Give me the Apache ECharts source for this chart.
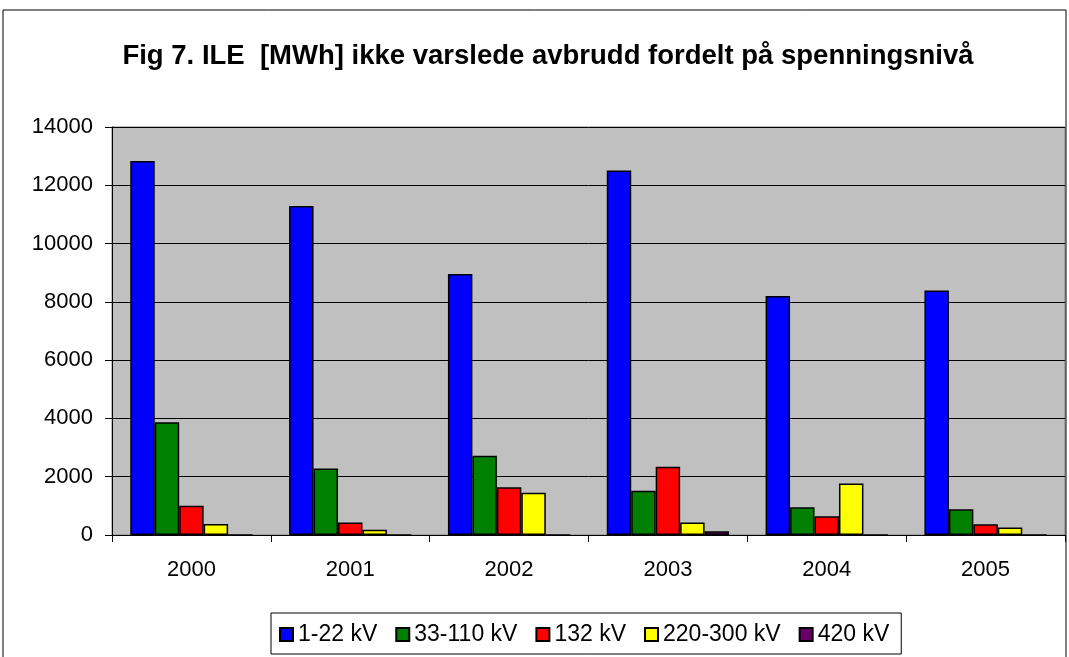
<!DOCTYPE html>
<html>
<head>
<meta charset="utf-8">
<script src="https://cdn.jsdelivr.net/npm/echarts@6/dist/echarts.min.js"></script>
<style>
  html, body { margin: 0; padding: 0; background: #fff; }
  #chart { width: 1069px; height: 657px; }
</style>
</head>
<body>
<div id="chart"></div>
<script>
// Data
var years = ['2000', '2001', '2002', '2003', '2004', '2005'];
var seriesNames = ['1-22 kV', '33-110 kV', '132 kV', '220-300 kV', '420 kV'];
var kv1_22 = [12830, 11290, 8960, 12510, 8200, 8390];
var kv33_110 = [3870, 2280, 2720, 1520, 950, 880];
var kv132 = [1000, 430, 1640, 2340, 640, 365];
var kv220_300 = [380, 180, 1450, 430, 1770, 260];
var kv420 = [0, 0, 0, 125, 0, 0];
var yTicks = [0, 2000, 4000, 6000, 8000, 10000, 12000, 14000];

var colors = ['#0000ff', '#008000', '#ff0000', '#ffff00', '#660066'];
var seriesData = [kv1_22, kv33_110, kv132, kv220_300, kv420];

var chartElement = document.getElementById('chart');
var chart = echarts.init(chartElement);

var font = '"Liberation Sans", Arial, sans-serif';

var series = seriesNames.map(function(name, i) {
    return {
        name: name,
        type: 'bar',
        barGap: 0,
        barCategoryGap: '23%',
        itemStyle: {
            color: colors[i],
            borderColor: '#000',
            borderWidth: 1.5
        },
        data: seriesData[i]
    };
});

var options = {
    animation: false,
    color: colors,
    textStyle: { fontFamily: font },

    // Title
    title: {
        text: 'Fig 7. ILE  [MWh] ikke varslede avbrudd fordelt på spenningsnivå',
        left: 543,
        textAlign: 'center',
        top: 37,
        textStyle: {
            fontFamily: font,
            fontSize: 27.5,
            fontWeight: 'bold',
            color: '#000'
        }
    },

    // Outer chart frame
    graphic: [{
        type: 'rect',
        shape: { x: 3, y: 10, width: 1063, height: 700 },
        style: { fill: null, stroke: '#000', lineWidth: 1 },
        silent: true
    }],

    // Legend
    legend: {
        left: 271,
        top: 613,
        data: seriesNames,
        icon: 'rect',
        itemWidth: 13,
        itemHeight: 13,
        itemGap: 18,
        padding: [10, 12, 8, 8],
        borderColor: '#000',
        borderWidth: 1,
        textStyle: { fontFamily: font, fontSize: 23, color: '#000' }
    },

    grid: {
        left: 112,
        right: 4,
        top: 127,
        bottom: 122,
        show: true,
        backgroundColor: '#c0c0c0',
        borderColor: '#808080',
        borderWidth: 1
    },

    xAxis: {
        type: 'category',
        data: years,
        axisLine: { lineStyle: { color: '#000', width: 1 } },
        axisTick: { show: true, length: 7, lineStyle: { color: '#000' } },
        axisLabel: { margin: 24, fontSize: 22, color: '#000', fontFamily: font },
        splitLine: { show: false }
    },

    yAxis: {
        type: 'value',
        min: yTicks[0],
        max: yTicks[yTicks.length - 1],
        interval: yTicks[1] - yTicks[0],
        axisLine: { show: true, lineStyle: { color: '#000', width: 1 } },
        axisTick: { show: true, length: 7, lineStyle: { color: '#000' } },
        axisLabel: {
            margin: 19, fontSize: 22, color: '#000', fontFamily: font,
            formatter: function(v) { return String(v); }
        },
        splitLine: { show: true, lineStyle: { color: '#000', width: 1 } }
    },

    series: series
};

chart.setOption(options);
</script>
</body>
</html>
